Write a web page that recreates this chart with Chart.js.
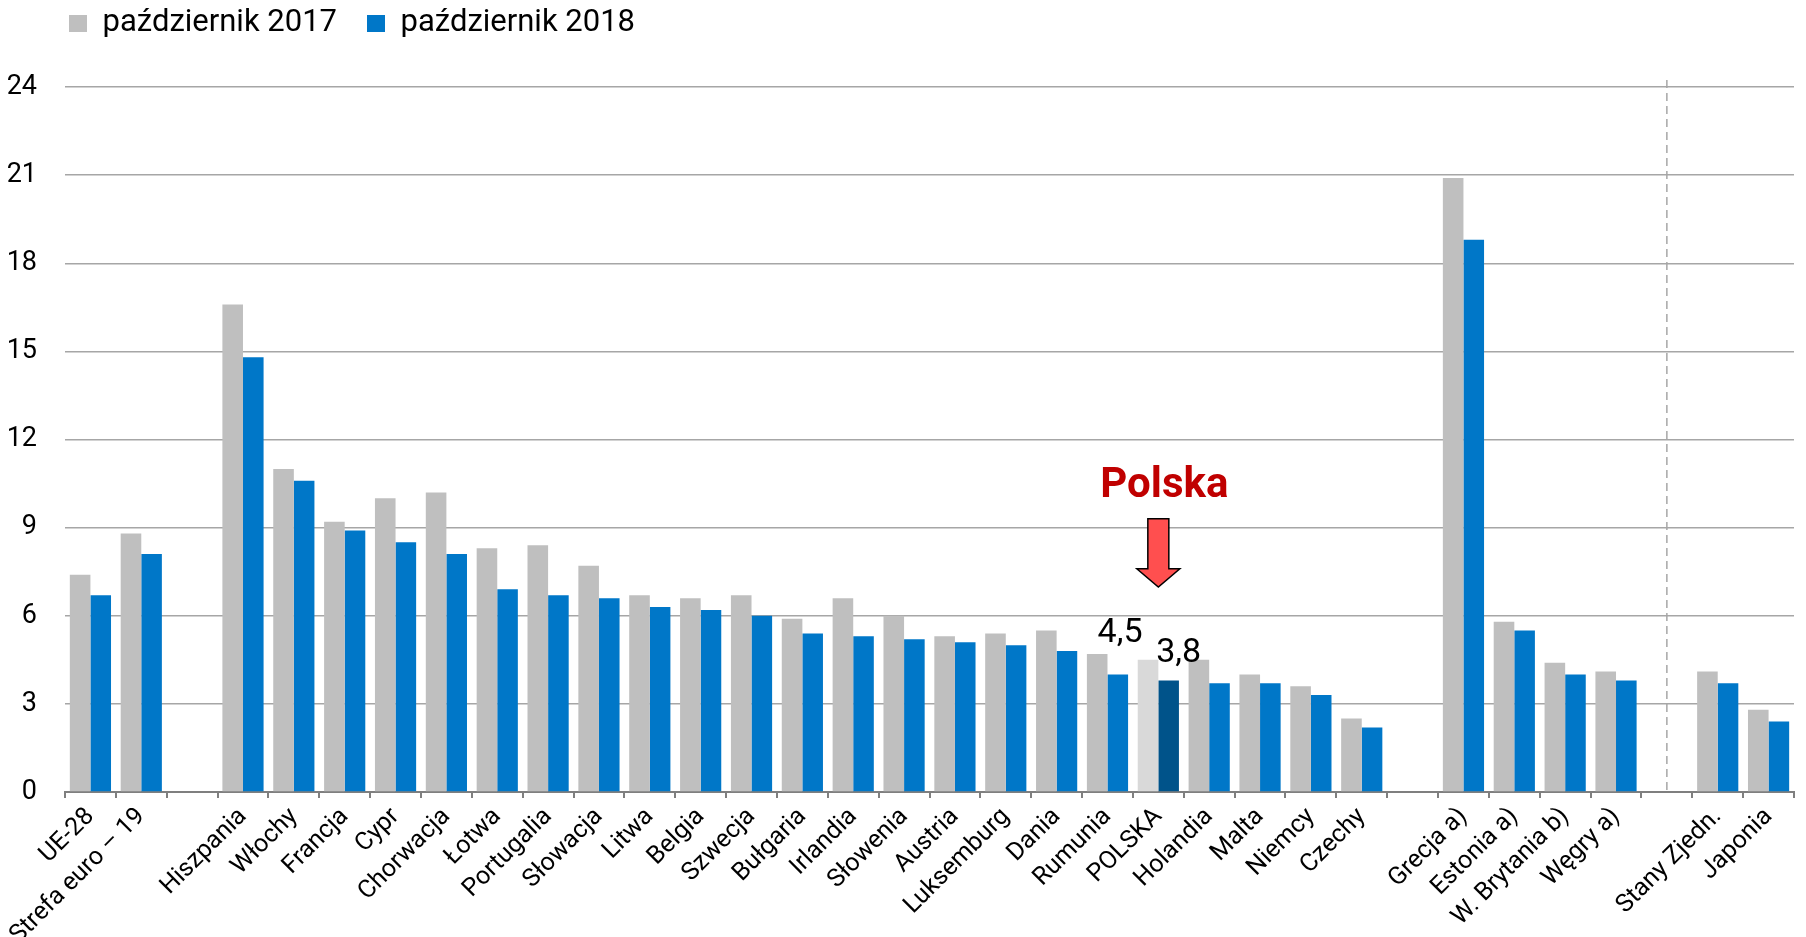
<!DOCTYPE html>
<html><head><meta charset="utf-8">
<script src="https://cdn.jsdelivr.net/npm/chart.js@4/dist/chart.umd.min.js"></script>
<style>html,body{margin:0;padding:0;background:#fff}#wrap{width:1806px;height:937px;position:relative}</style>
</head><body><div id="wrap"><canvas id="c"></canvas></div>
<script>
const categories = ["UE-28","Strefa euro – 19","","Hiszpania","Włochy","Francja","Cypr","Chorwacja","Łotwa","Portugalia","Słowacja","Litwa","Belgia","Szwecja","Bułgaria","Irlandia","Słowenia","Austria","Luksemburg","Dania","Rumunia","POLSKA","Holandia","Malta","Niemcy","Czechy"," ","Grecja a)","Estonia a)","W. Brytania b)","Węgry a)","  ","Stany Zjedn.","Japonia"];
const values2017 = [7.4,8.8,null,16.6,11.0,9.2,10.0,10.2,8.3,8.4,7.7,6.7,6.6,6.7,5.9,6.6,6.0,5.3,5.4,5.5,4.7,4.5,4.5,4.0,3.6,2.5,null,20.9,5.8,4.4,4.1,null,4.1,2.8];
const values2018 = [6.7,8.1,null,14.8,10.6,8.9,8.5,8.1,6.9,6.7,6.6,6.3,6.2,6.0,5.4,5.3,5.2,5.1,5.0,4.8,4.0,3.8,3.7,3.7,3.3,2.2,null,18.8,5.5,4.0,3.8,null,3.7,2.4];
const seriesLabels = ["październik 2017","październik 2018"];
const yTicks = [0,3,6,9,12,15,18,21,24];
const highlightCategory = "POLSKA";
const highlightLabels = ["4,5","3,8"];
const calloutText = "Polska";
const separatorAfter = "Węgry a)";

const FONT = "Roboto, 'Noto Sans', sans-serif";
const hi = categories.indexOf(highlightCategory);
const col17 = categories.map((c,i)=> i===hi ? '#d9d9d9' : '#bfbfbf');
const col18 = categories.map((c,i)=> i===hi ? '#00538a' : '#0077c8');

const legendShift = {
  id:'legendShift',
  afterLayout(chart){ if (chart.legend) chart.legend.left = 39; }
};

const annot = {
  id:'annot',
  afterDatasetsDraw(chart){
    const ctx = chart.ctx, x = chart.scales.x, y = chart.scales.y, ca = chart.chartArea;
    const sepX = x.getPixelForValue(categories.indexOf(separatorAfter)+1);
    ctx.save();
    ctx.strokeStyle = '#a6a6a6'; ctx.lineWidth = 1.5; ctx.setLineDash([8,5]);
    ctx.beginPath(); ctx.moveTo(sepX, ca.top-7); ctx.lineTo(sepX, ca.bottom); ctx.stroke();
    ctx.setLineDash([]);
    const b0 = chart.getDatasetMeta(0).data[hi], b1 = chart.getDatasetMeta(1).data[hi];
    ctx.fillStyle = '#000'; ctx.font = `34px ${FONT}`; ctx.textAlign='center'; ctx.textBaseline='alphabetic';
    ctx.fillText(highlightLabels[0], b0.x - 28, b0.y - 18);
    ctx.fillText(highlightLabels[1], b1.x + 10, b1.y - 18);
    const cx = x.getPixelForValue(hi);
    ctx.fillStyle = '#c00000'; ctx.font = `bold 42px ${FONT}`;
    ctx.fillText(calloutText, cx + 6, y.getPixelForValue(10.04));
    const yTop = y.getPixelForValue(9.3), yHead = y.getPixelForValue(7.6), yTip = y.getPixelForValue(6.98);
    ctx.beginPath();
    ctx.moveTo(cx-10.5, yTop); ctx.lineTo(cx+10.5, yTop); ctx.lineTo(cx+10.5, yHead);
    ctx.lineTo(cx+21.5, yHead); ctx.lineTo(cx, yTip); ctx.lineTo(cx-21.5, yHead);
    ctx.lineTo(cx-10.5, yHead); ctx.closePath();
    ctx.fillStyle = '#ff4f4f'; ctx.fill();
    ctx.strokeStyle = '#000'; ctx.lineWidth = 1.5; ctx.stroke();
    ctx.restore();
  }
};

new Chart(document.getElementById('c'), {
  type:'bar',
  data:{
    labels: categories,
    datasets:[
      {label:seriesLabels[0], data:values2017, backgroundColor:col17, categoryPercentage:0.81, barPercentage:1.0},
      {label:seriesLabels[1], data:values2018, backgroundColor:col18, categoryPercentage:0.81, barPercentage:1.0}
    ]
  },
  options:{
    responsive:true, maintainAspectRatio:false, animation:false,
    layout:{padding:{top:-22,right:12,bottom:0,left:0}},
    plugins:{
      tooltip:{enabled:false},
      legend:{
        position:'top', align:'start', fullSize:true,
        labels:{
          font:{family:FONT,size:31}, color:'#000', boxWidth:18, boxHeight:17, padding:30,
          generateLabels(chart){
            return chart.data.datasets.map((d,i)=>({text:d.label, fillStyle: i===0?'#bfbfbf':'#0077c8', strokeStyle:'rgba(0,0,0,0)', lineWidth:0, datasetIndex:i}));
          }
        }
      },
      title:{display:true, text:'', weight:500, position:'top', font:{size:1, lineHeight:1}, padding:{top:0,bottom:37}}
    },
    scales:{
      x:{
        grid:{display:true, drawOnChartArea:false, drawTicks:true, tickLength:6, color:'#7f7f7f', lineWidth:2, offset:true},
        border:{display:true, color:'#7f7f7f', width:2},
        ticks:{autoSkip:false, maxRotation:45, minRotation:45, color:'#000', font:{family:FONT,size:25}, padding:4},
        afterFit(s){ s.height = 145; }
      },
      y:{
        min:0, max:24,
        afterBuildTicks(s){ s.ticks = yTicks.map(v=>({value:v})); },
        grid:{drawTicks:false, color:(c)=> c.tick && c.tick.value===0 ? 'rgba(0,0,0,0)' : '#a6a6a6', lineWidth:1.5},
        border:{display:false},
        ticks:{color:'#000', font:{family:FONT,size:27}, padding:28},
        afterFit(s){ s.width = 65; }
      }
    }
  },
  plugins:[annot, legendShift]
});
</script>
</body></html>
